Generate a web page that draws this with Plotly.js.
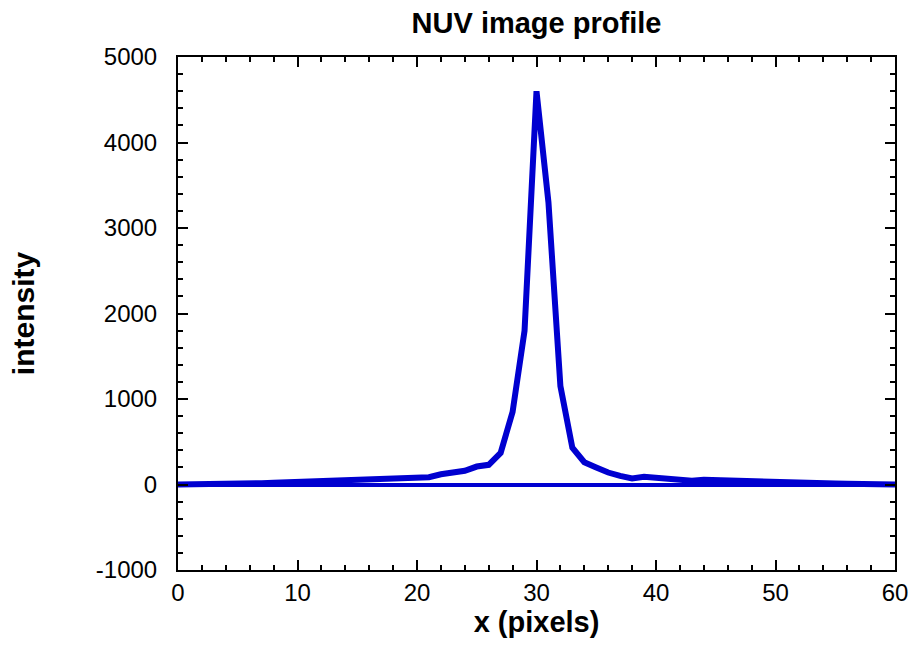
<!DOCTYPE html>
<html>
<head>
<meta charset="utf-8">
<script src="https://cdn.plot.ly/plotly-3.0.1.min.js"></script>
<style>html,body{margin:0;padding:0;background:#fff;}#chart{width:913px;height:645px;}</style>
</head>
<body>
<div id="chart"></div>
<script>
const xPixels = [0,1,2,3,4,5,6,7,8,9,10,11,12,13,14,15,16,17,18,19,20,21,22,23,24,25,26,27,28,29,30,31,32,33,34,35,36,37,38,39,40,41,42,43,44,45,46,47,48,49,50,51,52,53,54,55,56,57,58,59,60];
const intensity = [0,0,2,3,5,8,12,15,20,25,30,35,40,45,55,60,65,70,75,80,95,85,120,140,160,210,230,370,850,1800,4600,3300,1150,430,260,200,140,100,70,90,75,60,50,45,55,50,45,35,30,25,30,28,22,18,15,12,10,8,5,3,0];
const xTickVals = [0,10,20,30,40,50,60];
const yTickVals = [-1000,0,1000,2000,3000,4000,5000];
const yTickText = ['-1000','0','1000','2000','3000','4000','5000'];

const font = 'Liberation Sans, Arial, sans-serif';
const trace = {
  x: xPixels, y: intensity, type: 'scatter', mode: 'lines',
  line: {color: '#0000d0', width: 6}, hoverinfo: 'skip'
};
const axisCommon = {
  showline: true, linecolor: '#000', linewidth: 2, mirror: 'allticks',
  ticks: 'inside', ticklen: 10, tickwidth: 2, tickcolor: '#000',
  showgrid: false, tickfont: {family: font, size: 24, color: '#000'}
};
const layout = {
  width: 913, height: 645,
  margin: {l: 178, r: 18, t: 57, b: 75, pad: 0},
  paper_bgcolor: '#fff', plot_bgcolor: '#fff',
  showlegend: false,
  title: {text: '<b>NUV image profile</b>', font: {family: font, size: 29, color: '#000'}, xref: 'paper', x: 0.5, xanchor: 'center', yref: 'container', y: 0.965, yanchor: 'middle'},
  xaxis: Object.assign({}, axisCommon, {
    range: [0, 60], tickvals: xTickVals, zeroline: false,
    minor: {ticks: 'inside', ticklen: 5, tickwidth: 2, tickcolor: '#000', dtick: 2, showgrid: false},
    title: {text: '<b>x (pixels)</b>', font: {family: font, size: 29, color: '#000'}, standoff: 6}
  }),
  yaxis: Object.assign({}, axisCommon, {
    range: [-1000, 5000], tickvals: yTickVals, ticktext: yTickText,
    ticklabelstandoff: 14,
    zeroline: true, zerolinecolor: '#0000d0', zerolinewidth: 4,
    minor: {ticks: 'inside', ticklen: 5, tickwidth: 2, tickcolor: '#000', dtick: 200, showgrid: false},
    title: {text: '<b>intensity</b>', font: {family: font, size: 30, color: '#000'}, standoff: 52}
  })
};
Plotly.newPlot('chart', [trace], layout, {displayModeBar: false, staticPlot: true});
</script>
</body>
</html>
